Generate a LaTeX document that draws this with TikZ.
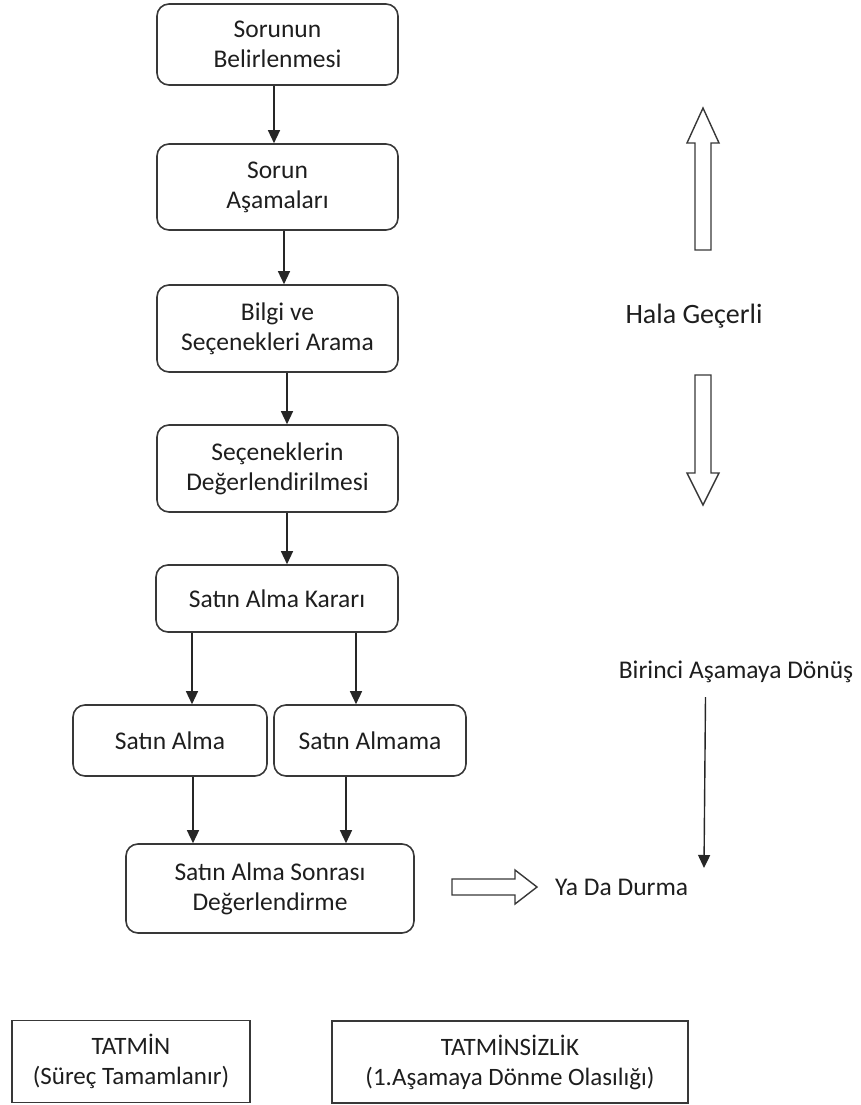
\documentclass[tikz,border=0pt]{standalone}
\usepackage{fontspec}
\setmainfont{Carlito}
\usetikzlibrary{arrows.meta}
\definecolor{ink}{HTML}{1E1E1E}
\definecolor{edge}{HTML}{383838}
\tikzset{
  box/.style={draw=edge, line width=1.6pt, rounded corners=12pt, inner sep=0pt, align=center, text=ink, font=\fontsize{25.5}{30}\selectfont},
  sqbox/.style={draw=edge, line width=1.6pt, inner sep=0pt, align=center, text=ink, font=\fontsize{25}{30}\selectfont},
  lbl/.style={inner sep=0pt, text=ink, font=\fontsize{25.5}{30}\selectfont},
  arr/.style={draw=black!85, line width=1.4pt, -{Triangle[width=12pt,length=13pt]}},
  blockarr/.style={draw=edge, line width=1.4pt, fill=white, line join=miter}
}
\begin{document}
\begin{tikzpicture}[x=1pt,y=-1pt]
\useasboundingbox (0,0) rectangle (861,1105);
% main boxes
\node[box, minimum width=241pt, minimum height=81pt] (b1) at (277.5,44.5) {Sorunun\\Belirlenmesi};
\node[box, minimum width=241pt, minimum height=86pt] (b2) at (277.5,187) {Sorun\\Aşamaları};
\node[box, minimum width=241pt, minimum height=87pt] (b3) at (277.5,328.5) {Bilgi ve\\Seçenekleri Arama};
\node[box, minimum width=241pt, minimum height=87pt] (b4) at (277.5,468.5) {Seçeneklerin\\Değerlendirilmesi};
\node[box, minimum width=242pt, minimum height=67pt] (b5) at (277,598.5) {Satın Alma Kararı};
\node[box, minimum width=194pt, minimum height=71pt] (b6) at (170,740.5) {Satın Alma};
\node[box, minimum width=192pt, minimum height=71pt] (b7) at (370,740.5) {Satın Almama};
\node[box, minimum width=288pt, minimum height=89pt] (b8) at (270,888.5) {Satın Alma Sonrası\\Değerlendirme};
\node[sqbox, minimum width=238pt, minimum height=82pt] (b9) at (131,1061.5) {TATMİN\\(Süreç Tamamlanır)};
\node[sqbox, minimum width=356pt, minimum height=82pt] (b10) at (510,1062) {TATMİNSİZLİK\\(1.Aşamaya Dönme Olasılığı)};
% helper x positions
\coordinate (x274) at (274,0);
\coordinate (x284) at (284,0);
\coordinate (x287) at (287,0);
\coordinate (x192) at (192,0);
\coordinate (x356) at (356,0);
\coordinate (x193) at (193,0);
\coordinate (x346) at (346,0);
% connectors
\draw[arr] (b1.south -| x274) -- (b2.north -| x274);
\draw[arr] (b2.south -| x284) -- (b3.north -| x284);
\draw[arr] (b3.south -| x287) -- (b4.north -| x287);
\draw[arr] (b4.south -| x287) -- (b5.north -| x287);
\draw[arr] (b5.south -| x192) -- (b6.north -| x192);
\draw[arr] (b5.south -| x356) -- (b7.north -| x356);
\draw[arr] (b6.south -| x193) -- (b8.north -| x193);
\draw[arr] (b7.south -| x346) -- (b8.north -| x346);
% right side labels
\node[lbl, font=\fontsize{28}{32}\selectfont] (hala) at (694,316) {Hala Geçerli};
\node[lbl, anchor=base] (birinci) at (736,678) {Birinci Aşamaya Dönüş};
\node[lbl, anchor=base west] (yada) at (555,895) {Ya Da Durma};
\coordinate (bstart) at (705.5,697);
\coordinate (bend) at (704,868);
\draw[arr] (bstart) -- (bend);
% block arrows
\draw[blockarr] (695,250) -- (695,143) -- (687,143) -- (703,108) -- (719,143) -- (711,143) -- (711,250) -- cycle;
\draw[blockarr] (695,375) -- (695,473) -- (687,473) -- (703,505) -- (719,473) -- (711,473) -- (711,375) -- cycle;
\draw[blockarr] (452,879) -- (515,879) -- (515,870) -- (537,887) -- (515,904) -- (515,895) -- (452,895) -- cycle;
\end{tikzpicture}
\end{document}
